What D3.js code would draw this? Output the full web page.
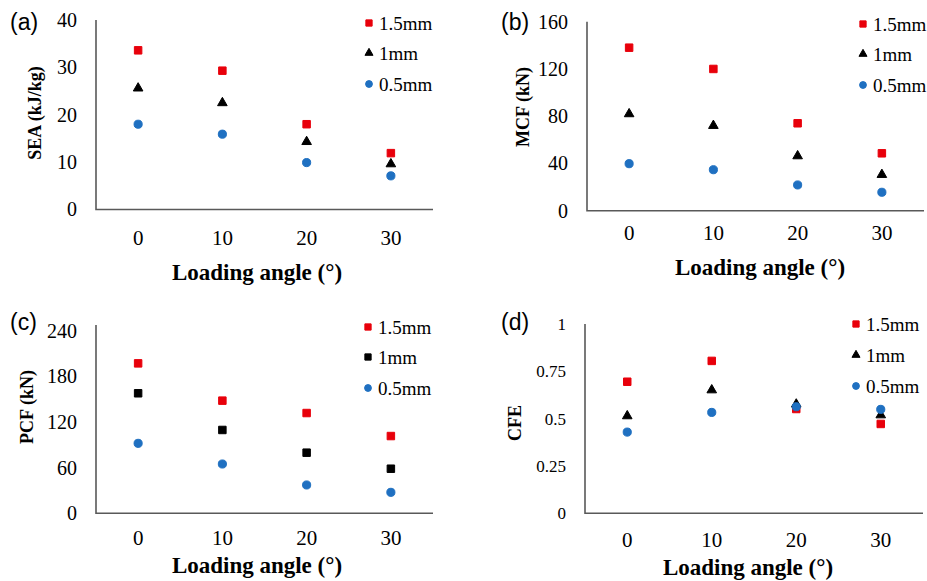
<!DOCTYPE html>
<html>
<head>
<meta charset="utf-8">
<script src="https://cdn.jsdelivr.net/npm/d3@7"></script>
<style>
  body { margin: 0; background: #fff; }
  svg { display: block; }
</style>
</head>
<body>
<div class="chart"></div>
<script>
const angles = ["0", "10", "20", "30"];
const seriesNames = ["1.5mm", "1mm", "0.5mm"];

// (a) SEA (kJ/kg)
const sea15 = [33.6, 29.3, 18.0, 11.9];
const sea10 = [25.6, 22.5, 14.3, 9.6];
const sea05 = [18.0, 15.9, 9.9, 7.1];
const seaTicks = [0, 10, 20, 30, 40];

// (b) MCF (kN)
const mcf15 = [138, 120, 74, 48.6];
const mcf10 = [81.9, 72, 46.3, 30.5];
const mcf05 = [39.8, 34.7, 21.8, 15.6];
const mcfTicks = [0, 40, 80, 120, 160];

// (c) PCF (kN)
const pcf15 = [197.4, 148.3, 132, 101.7];
const pcf10 = [158, 109.7, 79.8, 58.7];
const pcf05 = [92.1, 64.9, 37.3, 27.6];
const pcfTicks = [0, 60, 120, 180, 240];

// (d) CFE
const cfe15 = [0.695, 0.805, 0.551, 0.472];
const cfe10 = [0.514, 0.651, 0.576, 0.519];
const cfe05 = [0.429, 0.533, 0.563, 0.549];
const cfeTicks = [0, 0.25, 0.5, 0.75, 1];

const red = "#e8000b";
const black = "#000000";
const blue = "#1f70c1";
const axisColor = "#595959";

const panels = [
  {tag: "(a)", ylabel: "SEA (kJ/kg)", series: [sea15, sea10, sea05], ticks: seaTicks, mid: "triangle", yFont: 20,
   left: 96, right: 433, top: 20, bottom: 209.5, lineTop: 20, tagX: 10, tagY: 22,
   yTitleX: 35, yTitleY: 113, tickY: 238, titleX: 257, titleY: 272, legX: 369, legY: [23, 53, 84]},
  {tag: "(b)", ylabel: "MCF (kN)", series: [mcf15, mcf10, mcf05], ticks: mcfTicks, mid: "triangle", yFont: 20,
   left: 587, right: 924, top: 21.7, bottom: 210.7, lineTop: 21.7, tagX: 501, tagY: 22,
   yTitleX: 523, yTitleY: 107, tickY: 233, titleX: 760, titleY: 267, legX: 863, legY: [24, 54, 85]},
  {tag: "(c)", ylabel: "PCF (kN)", series: [pcf15, pcf10, pcf05], ticks: pcfTicks, mid: "square", yFont: 20,
   left: 96, right: 433, top: 331, bottom: 513.3, lineTop: 325, tagX: 10, tagY: 322,
   yTitleX: 27, yTitleY: 407, tickY: 538, titleX: 257, titleY: 565, legX: 368, legY: [327, 357, 388]},
  {tag: "(d)", ylabel: "CFE", series: [cfe15, cfe10, cfe05], ticks: cfeTicks, mid: "triangle", yFont: 17,
   left: 585, right: 923, top: 324, bottom: 513.3, lineTop: 324, tagX: 501, tagY: 322,
   yTitleX: 515, yTitleY: 423, tickY: 540, titleX: 748, titleY: 567, legX: 856, legY: [324, 355, 386]}
];

const width = 927, height = 581;

const svg = d3.select(".chart")
  .append("svg")
    .attr("width", width)
    .attr("height", height);

const serif = "'Liberation Serif', 'Times New Roman', serif";
const sans = "'Liberation Sans', Arial, sans-serif";

const shapeFor = (p, i) => {
  if (i === 0) return {type: d3.symbolSquare, size: 56, color: red};
  if (i === 1) return p.mid === "square"
    ? {type: d3.symbolSquare, size: 56, color: black}
    : {type: d3.symbolTriangle, size: 40, color: black};
  return {type: d3.symbolCircle, size: 52, color: blue};
};

panels.forEach(p => {
  const g = svg.append("g");

  const x = d3.scaleBand()
    .domain(angles)
    .range([p.left, p.right]);

  const y = d3.scaleLinear()
    .domain([0, d3.max(p.ticks)])
    .range([p.bottom, p.top]);

  // y axis
  const yAxis = g.append("g")
    .attr("transform", `translate(${p.left},0)`)
    .call(d3.axisLeft(y).tickValues(p.ticks).tickSize(0).tickPadding(19).tickFormat(d => String(d)));
  yAxis.select(".domain").remove();
  yAxis.attr("font-family", serif).attr("font-size", p.yFont);
  yAxis.selectAll("text")
    .attr("fill", "#000");

  // x axis
  const xAxis = g.append("g")
    .attr("transform", `translate(0,${p.bottom})`)
    .call(d3.axisBottom(x).tickSize(0).tickPadding(0));
  xAxis.select(".domain").remove();
  xAxis.attr("font-family", serif).attr("font-size", 21);
  xAxis.selectAll("text")
    .attr("dy", null)
    .attr("y", p.tickY - p.bottom)
    .attr("dominant-baseline", "central")
    .attr("fill", "#000");

  // axis lines
  g.append("path")
    .attr("d", `M${p.left},${p.lineTop}V${p.bottom}H${p.right}`)
    .attr("fill", "none")
    .attr("stroke", axisColor)
    .attr("stroke-width", 1.6);

  // points
  p.series.forEach((vals, i) => {
    const s = shapeFor(p, i);
    g.append("g")
      .selectAll("path")
      .data(vals)
      .join("path")
        .attr("d", d3.symbol().type(s.type).size(s.size))
        .attr("transform", (d, k) => `translate(${x(angles[k]) + x.bandwidth() / 2},${y(d)})`)
        .attr("fill", s.color)
        .attr("stroke", s.color)
        .attr("stroke-width", 1)
        .attr("stroke-linejoin", "round");
  });

  // legend
  seriesNames.forEach((name, i) => {
    const s = shapeFor(p, i);
    g.append("path")
      .attr("d", d3.symbol().type(s.type).size(s.size * 0.7))
      .attr("transform", `translate(${p.legX},${p.legY[i]})`)
      .attr("fill", s.color)
      .attr("stroke", s.color)
      .attr("stroke-width", 1)
      .attr("stroke-linejoin", "round");
    g.append("text")
      .attr("x", p.legX + 10)
      .attr("y", p.legY[i])
      .attr("dominant-baseline", "central")
      .attr("font-family", serif)
      .attr("font-size", 19)
      .text(name);
  });

  // tag
  g.append("text")
    .attr("x", p.tagX)
    .attr("y", p.tagY)
    .attr("dominant-baseline", "central")
    .attr("font-family", sans)
    .attr("font-size", 23)
    .text(p.tag);

  // y title
  g.append("text")
    .attr("transform", `translate(${p.yTitleX},${p.yTitleY}) rotate(-90)`)
    .attr("text-anchor", "middle")
    .attr("dominant-baseline", "central")
    .attr("font-family", serif)
    .attr("font-weight", "bold")
    .attr("font-size", 18)
    .text(p.ylabel);

  // x title
  g.append("text")
    .attr("x", p.titleX)
    .attr("y", p.titleY)
    .attr("text-anchor", "middle")
    .attr("dominant-baseline", "central")
    .attr("font-family", serif)
    .attr("font-weight", "bold")
    .attr("font-size", 23)
    .text("Loading angle (°)");
});
</script>
</body>
</html>
